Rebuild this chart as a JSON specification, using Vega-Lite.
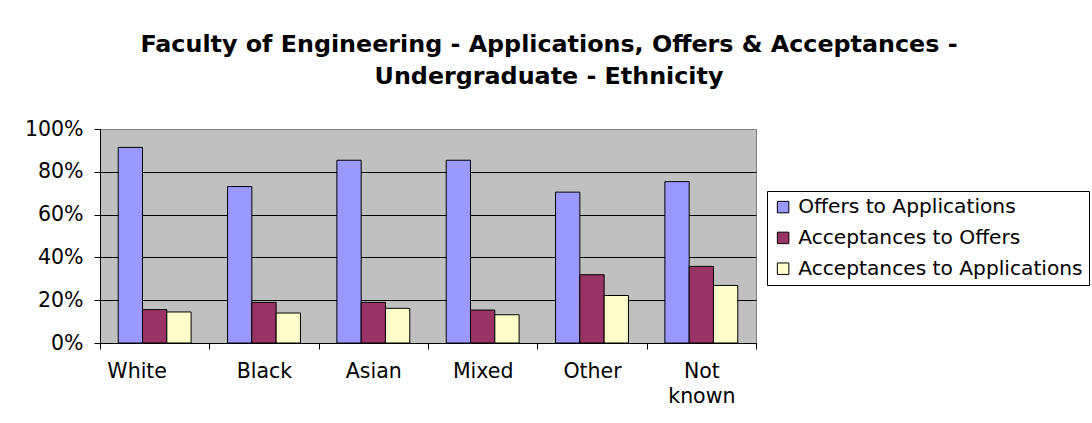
{
  "$schema": "https://vega.github.io/schema/vega-lite/v6.json",
  "autosize": {"type": "none"},
  "padding": {"left": 100, "top": 129, "right": 336, "bottom": 80},
  "width": 656,
  "height": 214,
  "background": "white",
  "title": {
    "text": ["Faculty of Engineering - Applications, Offers & Acceptances -", "Undergraduate - Ethnicity"],
    "anchor": "middle",
    "frame": "group",
    "dx": 121,
    "font": "DejaVu Sans",
    "fontSize": 23.8,
    "fontWeight": "bold",
    "color": "black",
    "lineHeight": 32,
    "offset": 30
  },
  "config": {
    "view": {"fill": "#C0C0C0", "stroke": "#808080", "strokeWidth": 1},
    "font": "DejaVu Sans"
  },
  "data": {
    "values": [
      {"ethnicity": "White", "series": "Offers to Applications", "value": 0.914},
      {"ethnicity": "White", "series": "Acceptances to Offers", "value": 0.156},
      {"ethnicity": "White", "series": "Acceptances to Applications", "value": 0.145},
      {"ethnicity": "Black", "series": "Offers to Applications", "value": 0.731},
      {"ethnicity": "Black", "series": "Acceptances to Offers", "value": 0.190},
      {"ethnicity": "Black", "series": "Acceptances to Applications", "value": 0.140},
      {"ethnicity": "Asian", "series": "Offers to Applications", "value": 0.854},
      {"ethnicity": "Asian", "series": "Acceptances to Offers", "value": 0.190},
      {"ethnicity": "Asian", "series": "Acceptances to Applications", "value": 0.162},
      {"ethnicity": "Mixed", "series": "Offers to Applications", "value": 0.854},
      {"ethnicity": "Mixed", "series": "Acceptances to Offers", "value": 0.154},
      {"ethnicity": "Mixed", "series": "Acceptances to Applications", "value": 0.132},
      {"ethnicity": "Other", "series": "Offers to Applications", "value": 0.705},
      {"ethnicity": "Other", "series": "Acceptances to Offers", "value": 0.319},
      {"ethnicity": "Other", "series": "Acceptances to Applications", "value": 0.222},
      {"ethnicity": "Not known", "series": "Offers to Applications", "value": 0.754},
      {"ethnicity": "Not known", "series": "Acceptances to Offers", "value": 0.358},
      {"ethnicity": "Not known", "series": "Acceptances to Applications", "value": 0.269}
    ]
  },
  "mark": {"type": "bar", "stroke": "black", "strokeWidth": 1},
  "encoding": {
    "x": {
      "field": "ethnicity",
      "type": "nominal",
      "sort": ["White", "Black", "Asian", "Mixed", "Other", "Not known"],
      "scale": {"paddingInner": 0, "paddingOuter": 0},
      "axis": {
        "title": null,
        "labelAngle": 0,
        "labelFontSize": 20.5,
        "labelColor": "black",
        "labelPadding": 12,
        "labelLineHeight": 25,
        "labelBaseline": "top",
        "labelExpr": "datum.value == 'Not known' ? ['Not', 'known'] : datum.value",
        "labelOffset": {"condition": {"test": "datum.value == 'White'", "value": -18}, "value": 0},
        "tickBand": "extent",
        "tickSize": 6,
        "tickColor": "black",
        "domainColor": "black",
        "grid": false
      }
    },
    "xOffset": {
      "field": "series",
      "type": "nominal",
      "sort": ["Offers to Applications", "Acceptances to Offers", "Acceptances to Applications"],
      "scale": {"paddingInner": 0, "paddingOuter": 0.75}
    },
    "y": {
      "field": "value",
      "type": "quantitative",
      "scale": {"domain": [0, 1], "nice": false},
      "axis": {
        "title": null,
        "values": [0, 0.2, 0.4, 0.6, 0.8, 1],
        "format": ".0%",
        "labelFontSize": 20.5,
        "labelColor": "black",
        "labelPadding": 11,
        "tickSize": 6,
        "tickColor": "black",
        "domainColor": "black",
        "grid": true,
        "gridColor": {"condition": {"test": "datum.value >= 1", "value": "#808080"}, "value": "black"},
        "gridOpacity": 1,
        "gridWidth": 1
      }
    },
    "color": {
      "field": "series",
      "type": "nominal",
      "sort": ["Offers to Applications", "Acceptances to Offers", "Acceptances to Applications"],
      "scale": {
        "domain": ["Offers to Applications", "Acceptances to Offers", "Acceptances to Applications"],
        "range": ["#9999FF", "#993366", "#FFFFCC"]
      },
      "legend": {
        "title": null,
        "orient": "none",
        "legendX": 667,
        "legendY": 62,
        "labelFontSize": 20.2,
        "labelColor": "black",
        "labelOffset": 5,
        "symbolType": "square",
        "symbolSize": 132,
        "symbolStrokeColor": "black",
        "symbolStrokeWidth": 1,
        "symbolOpacity": 1,
        "rowPadding": 9.8,
        "padding": 6,
        "strokeColor": "black",
        "fillColor": "white",
        "labelLimit": 400
      }
    }
  }
}
